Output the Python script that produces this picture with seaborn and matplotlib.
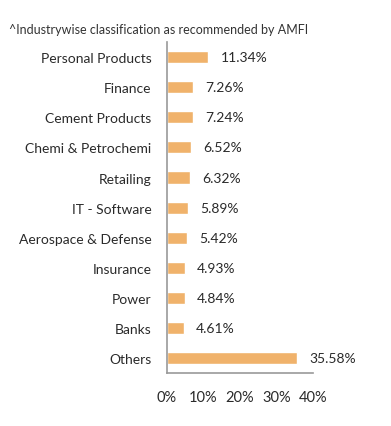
import numpy as np
import pandas as pd
import matplotlib
matplotlib.use("Agg")
import matplotlib.pyplot as plt
import seaborn as sns

industries = ['Personal Products', 'Finance', 'Cement Products', 'Chemi & Petrochemi',
              'Retailing', 'IT - Software', 'Aerospace & Defense', 'Insurance',
              'Power', 'Banks', 'Others']
weights = [11.34, 7.26, 7.24, 6.52, 6.32, 5.89, 5.42, 4.93, 4.84, 4.61, 35.58]
x_ticks = [0, 10, 20, 30, 40]

sns.set_style("white")
plt.rcParams['font.family'] = ['Lato', 'DejaVu Sans']

df = pd.DataFrame({'industry': industries, 'weight': weights})

fig = plt.figure(figsize=(3.91, 4.27), dpi=100)
ax = fig.add_axes([0.427, 0.124, 0.374, 0.775])

sns.barplot(data=df, x='weight', y='industry', orient='h', color='#F0B26B',
            saturation=1, width=0.4, ax=ax)

for i, v in enumerate(weights):
    ax.text(v + 3.3, i, f'{v:.2f}%', va='center', ha='left', fontsize=10, color='#2a2a2a')

ax.set_xlim(0, 40)
ax.set_ylim(len(industries) - 0.5, -0.5)
ax.set_xticks(x_ticks)
ax.set_xticklabels([f'{t}%' for t in x_ticks], fontsize=10.5, color='#2a2a2a')
ax.set_yticks(range(len(industries)))
ax.set_yticklabels(industries, fontsize=10, color='#2a2a2a')
ax.set_yticks(np.arange(-0.5, len(industries), 1), minor=True)
ax.tick_params(axis='y', which='major', length=0, pad=11)
ax.tick_params(axis='y', which='minor', length=5, color='#999999', width=1.2, direction='out')
ax.tick_params(axis='x', length=4, color='#999999', width=1.2, pad=8)
ax.set_xlabel('')
ax.set_ylabel('')

for s in ['top', 'right']:
    ax.spines[s].set_visible(False)
for s in ['left', 'bottom']:
    ax.spines[s].set_color('#999999')
    ax.spines[s].set_linewidth(1.2)

fig.text(0.023, 0.93, '^Industrywise classification as recommended by AMFI',
         fontsize=9, color='#333333', ha='left', va='center')

fig.savefig('out.png', dpi=100, facecolor='white')
